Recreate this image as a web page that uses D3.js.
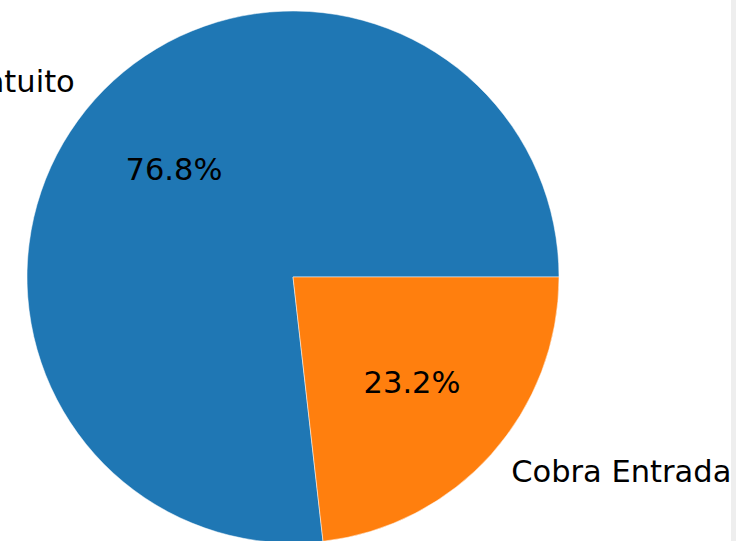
<!DOCTYPE html>
<html>
  <head>
    <meta charset="UTF-8" />
    <script src="https://d3js.org/d3.v7.min.js"></script>
    <style>
      body { margin: 0; background: #fff; }
      text { font-family: "DejaVu Sans", sans-serif; font-size: 30.5px; fill: #000; }
    </style>
  </head>
  <body>
    <script>
      var categories = ["Gratuito", "Cobra Entrada"];
      var values = [76.8, 23.2];
      var colors = ["#1f77b4", "#ff7f0e"];

      var width = 736, height = 541;
      var cx = 293, cy = 277, radius = 266;

      var svg = d3.select("body").append("svg")
        .attr("width", width)
        .attr("height", height);

      var g = svg.append("g")
        .attr("transform", "translate(" + cx + "," + cy + ")");

      // counterclockwise from 3 o'clock, like matplotlib
      var pie = d3.pie()
        .sort(null)
        .startAngle(Math.PI / 2)
        .endAngle(Math.PI / 2 - 2 * Math.PI);

      var arcs = pie(values);

      var arc = d3.arc().innerRadius(0).outerRadius(radius);
      var labelArc = d3.arc().innerRadius(radius * 1.1).outerRadius(radius * 1.1);
      var pctArc = d3.arc().innerRadius(radius * 0.6).outerRadius(radius * 0.6);

      g.selectAll("path")
        .data(arcs)
        .enter()
        .append("path")
        .attr("d", arc)
        .attr("fill", (d, i) => colors[i])
        .attr("stroke", "#fff")
        .attr("stroke-width", 0.5);

      g.selectAll(".lbl")
        .data(arcs)
        .enter()
        .append("text")
        .attr("class", "lbl")
        .attr("x", d => labelArc.centroid(d)[0])
        .attr("y", d => labelArc.centroid(d)[1])
        .attr("dy", "0.32em")
        .attr("text-anchor", d => labelArc.centroid(d)[0] < 0 ? "end" : "start")
        .text((d, i) => categories[i]);

      g.selectAll(".pct")
        .data(arcs)
        .enter()
        .append("text")
        .attr("class", "pct")
        .attr("x", d => pctArc.centroid(d)[0])
        .attr("y", d => pctArc.centroid(d)[1])
        .attr("dy", "0.32em")
        .attr("text-anchor", "middle")
        .text(d => d.value.toFixed(1) + "%");

      // grey strip at the right edge of the capture
      svg.append("rect")
        .attr("x", 731)
        .attr("y", 0)
        .attr("width", 5)
        .attr("height", height)
        .attr("fill", "#eeeeee");
    </script>
  </body>
</html>
